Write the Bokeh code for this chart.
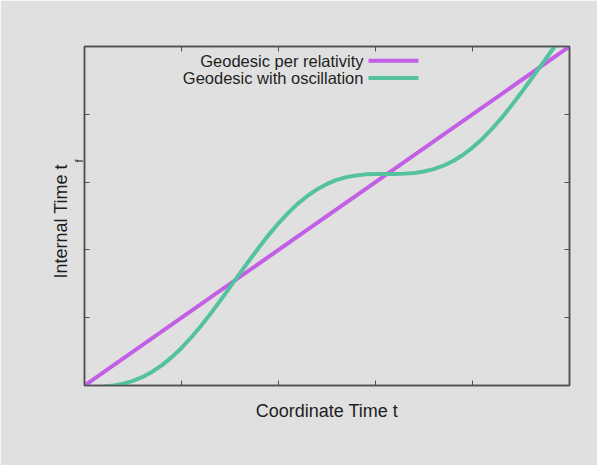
from bokeh.plotting import figure
from bokeh.models import Range1d, LinearAxis, Label, FixedTicker, CustomLabelingPolicy, Title
from bokeh.embed import file_html
from bokeh.resources import INLINE

# ---- data ----
tick_vals = [0, 1, 2, 3, 4, 5]
x_rel = [0.0, 5.0]
y_rel = [0.0, 5.0]
x_osc = [0.2, 0.3, 0.4, 0.5, 0.6, 0.7, 0.8, 0.9, 1.0, 1.1, 1.2, 1.3, 1.4, 1.5,
         1.6, 1.7, 1.8, 1.9, 2.0, 2.1, 2.2, 2.3, 2.4, 2.5, 2.6, 2.7, 2.8, 2.9,
         3.0, 3.1, 3.2, 3.3, 3.4, 3.5, 3.6, 3.7, 3.8, 3.9, 4.0, 4.1, 4.2, 4.3,
         4.4, 4.5, 4.6, 4.7, 4.8, 4.9]
y_osc = [-0.014, 0.001, 0.027, 0.068, 0.127, 0.204, 0.301, 0.418, 0.554, 0.708,
         0.878, 1.060, 1.252, 1.450, 1.650, 1.848, 2.040, 2.222, 2.392, 2.546,
         2.682, 2.799, 2.896, 2.973, 3.032, 3.073, 3.099, 3.114, 3.120, 3.121,
         3.121, 3.125, 3.135, 3.156, 3.191, 3.242, 3.311, 3.400, 3.509, 3.637,
         3.784, 3.947, 4.125, 4.313, 4.509, 4.708, 4.908, 5.102]
series_names = ["Geodesic per relativity", "Geodesic with oscillation"]
x_label = "Coordinate Time t"
y_label = "Internal Time t"
y_label_sub = "f"

# ---- styles ----
BG = "#e0e0e0"
FRAME = "#505050"
TXT = "#1e1e1e"
PURPLE = "#c25fe6"
GREEN = "#54c29f"
FONT = "Liberation Sans"

p = figure(width=597, height=465, x_range=Range1d(0, 5), y_range=Range1d(0, 5),
           output_backend="svg", toolbar_location=None,
           min_border_left=84, min_border_right=28, min_border_top=46, min_border_bottom=80)
p.background_fill_color = BG
p.border_fill_color = BG
p.outline_line_color = FRAME
p.outline_line_width = 1.5
p.grid.visible = False

ticker = FixedTicker(ticks=tick_vals, minor_ticks=[])
no_labels = CustomLabelingPolicy(code="const all = [...indices]; for (const i of all) indices.unset(i); return indices")

def style_axis(ax):
    ax.ticker = ticker
    ax.major_tick_in = 5
    ax.major_tick_out = 0
    ax.major_tick_line_color = FRAME
    ax.major_tick_line_width = 1
    ax.minor_tick_line_color = None
    ax.axis_line_color = FRAME
    ax.axis_line_width = 1.5
    ax.major_label_policy = no_labels
    ax.major_label_standoff = 0
    ax.axis_label = None

bottom_ax = p.below[0]
left_ax = p.left[0]
style_axis(bottom_ax)
style_axis(left_ax)
left_ax.major_label_text_font_size = "0px"

top_ax = LinearAxis()
right_ax = LinearAxis()
style_axis(top_ax)
style_axis(right_ax)
p.add_layout(top_ax, "above")
p.add_layout(right_ax, "right")

# x axis title through the bottom axis itself
bottom_ax.axis_label = x_label
bottom_ax.axis_label_text_font = FONT
bottom_ax.axis_label_text_font_size = "18px"
bottom_ax.axis_label_text_font_style = "normal"
bottom_ax.axis_label_text_color = TXT
bottom_ax.axis_label_standoff = 4

# y axis title with its subscript, as side titles next to the left axis
p.add_layout(Title(text=y_label_sub, align="right", offset=113, standoff=0,
                   text_font=FONT, text_font_size="11px", text_font_style="normal",
                   text_color=TXT), "left")
p.add_layout(Title(text=y_label, align="left", offset=107, standoff=0,
                   text_font=FONT, text_font_size="18px", text_font_style="normal",
                   text_color=TXT), "left")

p.line(x_rel, y_rel, line_color=PURPLE, line_width=4)
p.line(x_osc, y_osc, line_color=GREEN, line_width=4)

# legend (gnuplot style: text right-aligned, sample to the right)
leg_text_x = 2.876
leg_rows_y = [4.79, 4.537]
leg_sample = [2.928, 3.443]
for name, yy, col in zip(series_names, leg_rows_y, [PURPLE, GREEN]):
    p.add_layout(Label(x=leg_text_x, y=yy, text=name, text_align="right",
                       text_baseline="middle", text_font=FONT,
                       text_font_size="16.5px", text_color=TXT))
    p.line(leg_sample, [yy, yy], line_color=col, line_width=4)

open("out.html", "w").write(file_html(p, INLINE))
